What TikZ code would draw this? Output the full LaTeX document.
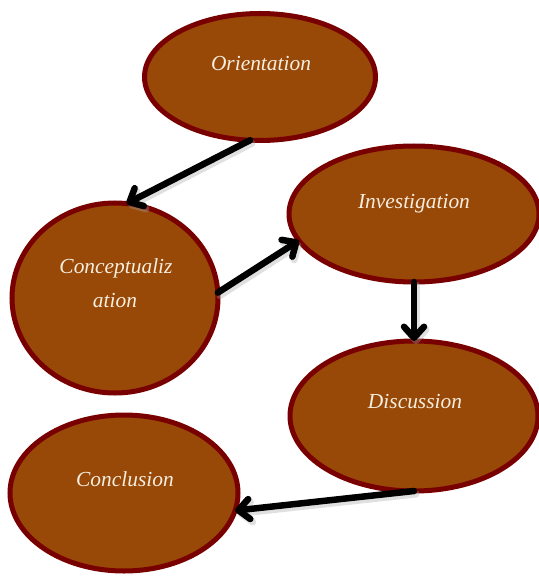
\documentclass[tikz,border=0pt]{standalone}
\usepackage{fontspec}
\setmainfont{Liberation Serif}
\usetikzlibrary{shapes.geometric,arrows.meta}
\definecolor{fillbrown}{HTML}{984807}
\definecolor{rimred}{HTML}{780000}
\definecolor{cream}{HTML}{F6EEDF}
\tikzset{
  stage/.style={ellipse,draw=rimred,fill=fillbrown,line width=5bp,inner sep=0pt,outer sep=0pt},
  lbl/.style={text=cream,font=\fontsize{21.5}{26}\selectfont\itshape,inner sep=0pt,anchor=base},
  flow/.style={draw=black,line width=6.5bp,line cap=round,line join=round,
     -{Straight Barb[length=11bp,width=20bp,line cap=round,line join=round]}},
  flowshadow/.style={draw=black!35,opacity=0.35,line width=7bp,line cap=round,line join=round,
     -{Straight Barb[length=11bp,width=20bp,line cap=round,line join=round]}}
}
\begin{document}
\begin{tikzpicture}[x=1bp,y=-1bp]
\useasboundingbox (0,0) rectangle (539,576);
\node[stage,minimum width=231bp,minimum height=127bp] (ori) at (260,77) {};
\node[stage,minimum width=206bp,minimum height=190bp] (con) at (115,298) {};
\node[stage,minimum width=250bp,minimum height=136bp] (inv) at (414,214) {};
\node[stage,minimum width=248bp,minimum height=150bp] (dis) at (414,416) {};
\node[stage,minimum width=228bp,minimum height=156bp] (clu) at (124,493) {};
\node[lbl] (tori) at (261,71) {Orientation};
\node[lbl] (tcon1) at (116,273) {Conceptualiz};
\node[lbl] (tcon2) at (115,307) {ation};
\node[lbl] (tinv) at (414,208) {Investigation};
\node[lbl] (tdis) at (415,408) {Discussion};
\node[lbl] (tclu) at (125,486) {Conclusion};
\begin{scope}[transform canvas={shift={(2bp,-3bp)}}]
\draw[flowshadow] (ori.261) -- (con.83);
\draw[flowshadow] (con.3) -- (inv.193);
\draw[flowshadow] (inv.270) -- (dis.90);
\draw[flowshadow] (dis.270) -- (clu.351);
\end{scope}
\draw[flow] (ori.261) -- (con.83);
\draw[flow] (con.3) -- (inv.193);
\draw[flow] (inv.270) -- (dis.90);
\draw[flow] (dis.270) -- (clu.351);
\end{tikzpicture}
\end{document}
